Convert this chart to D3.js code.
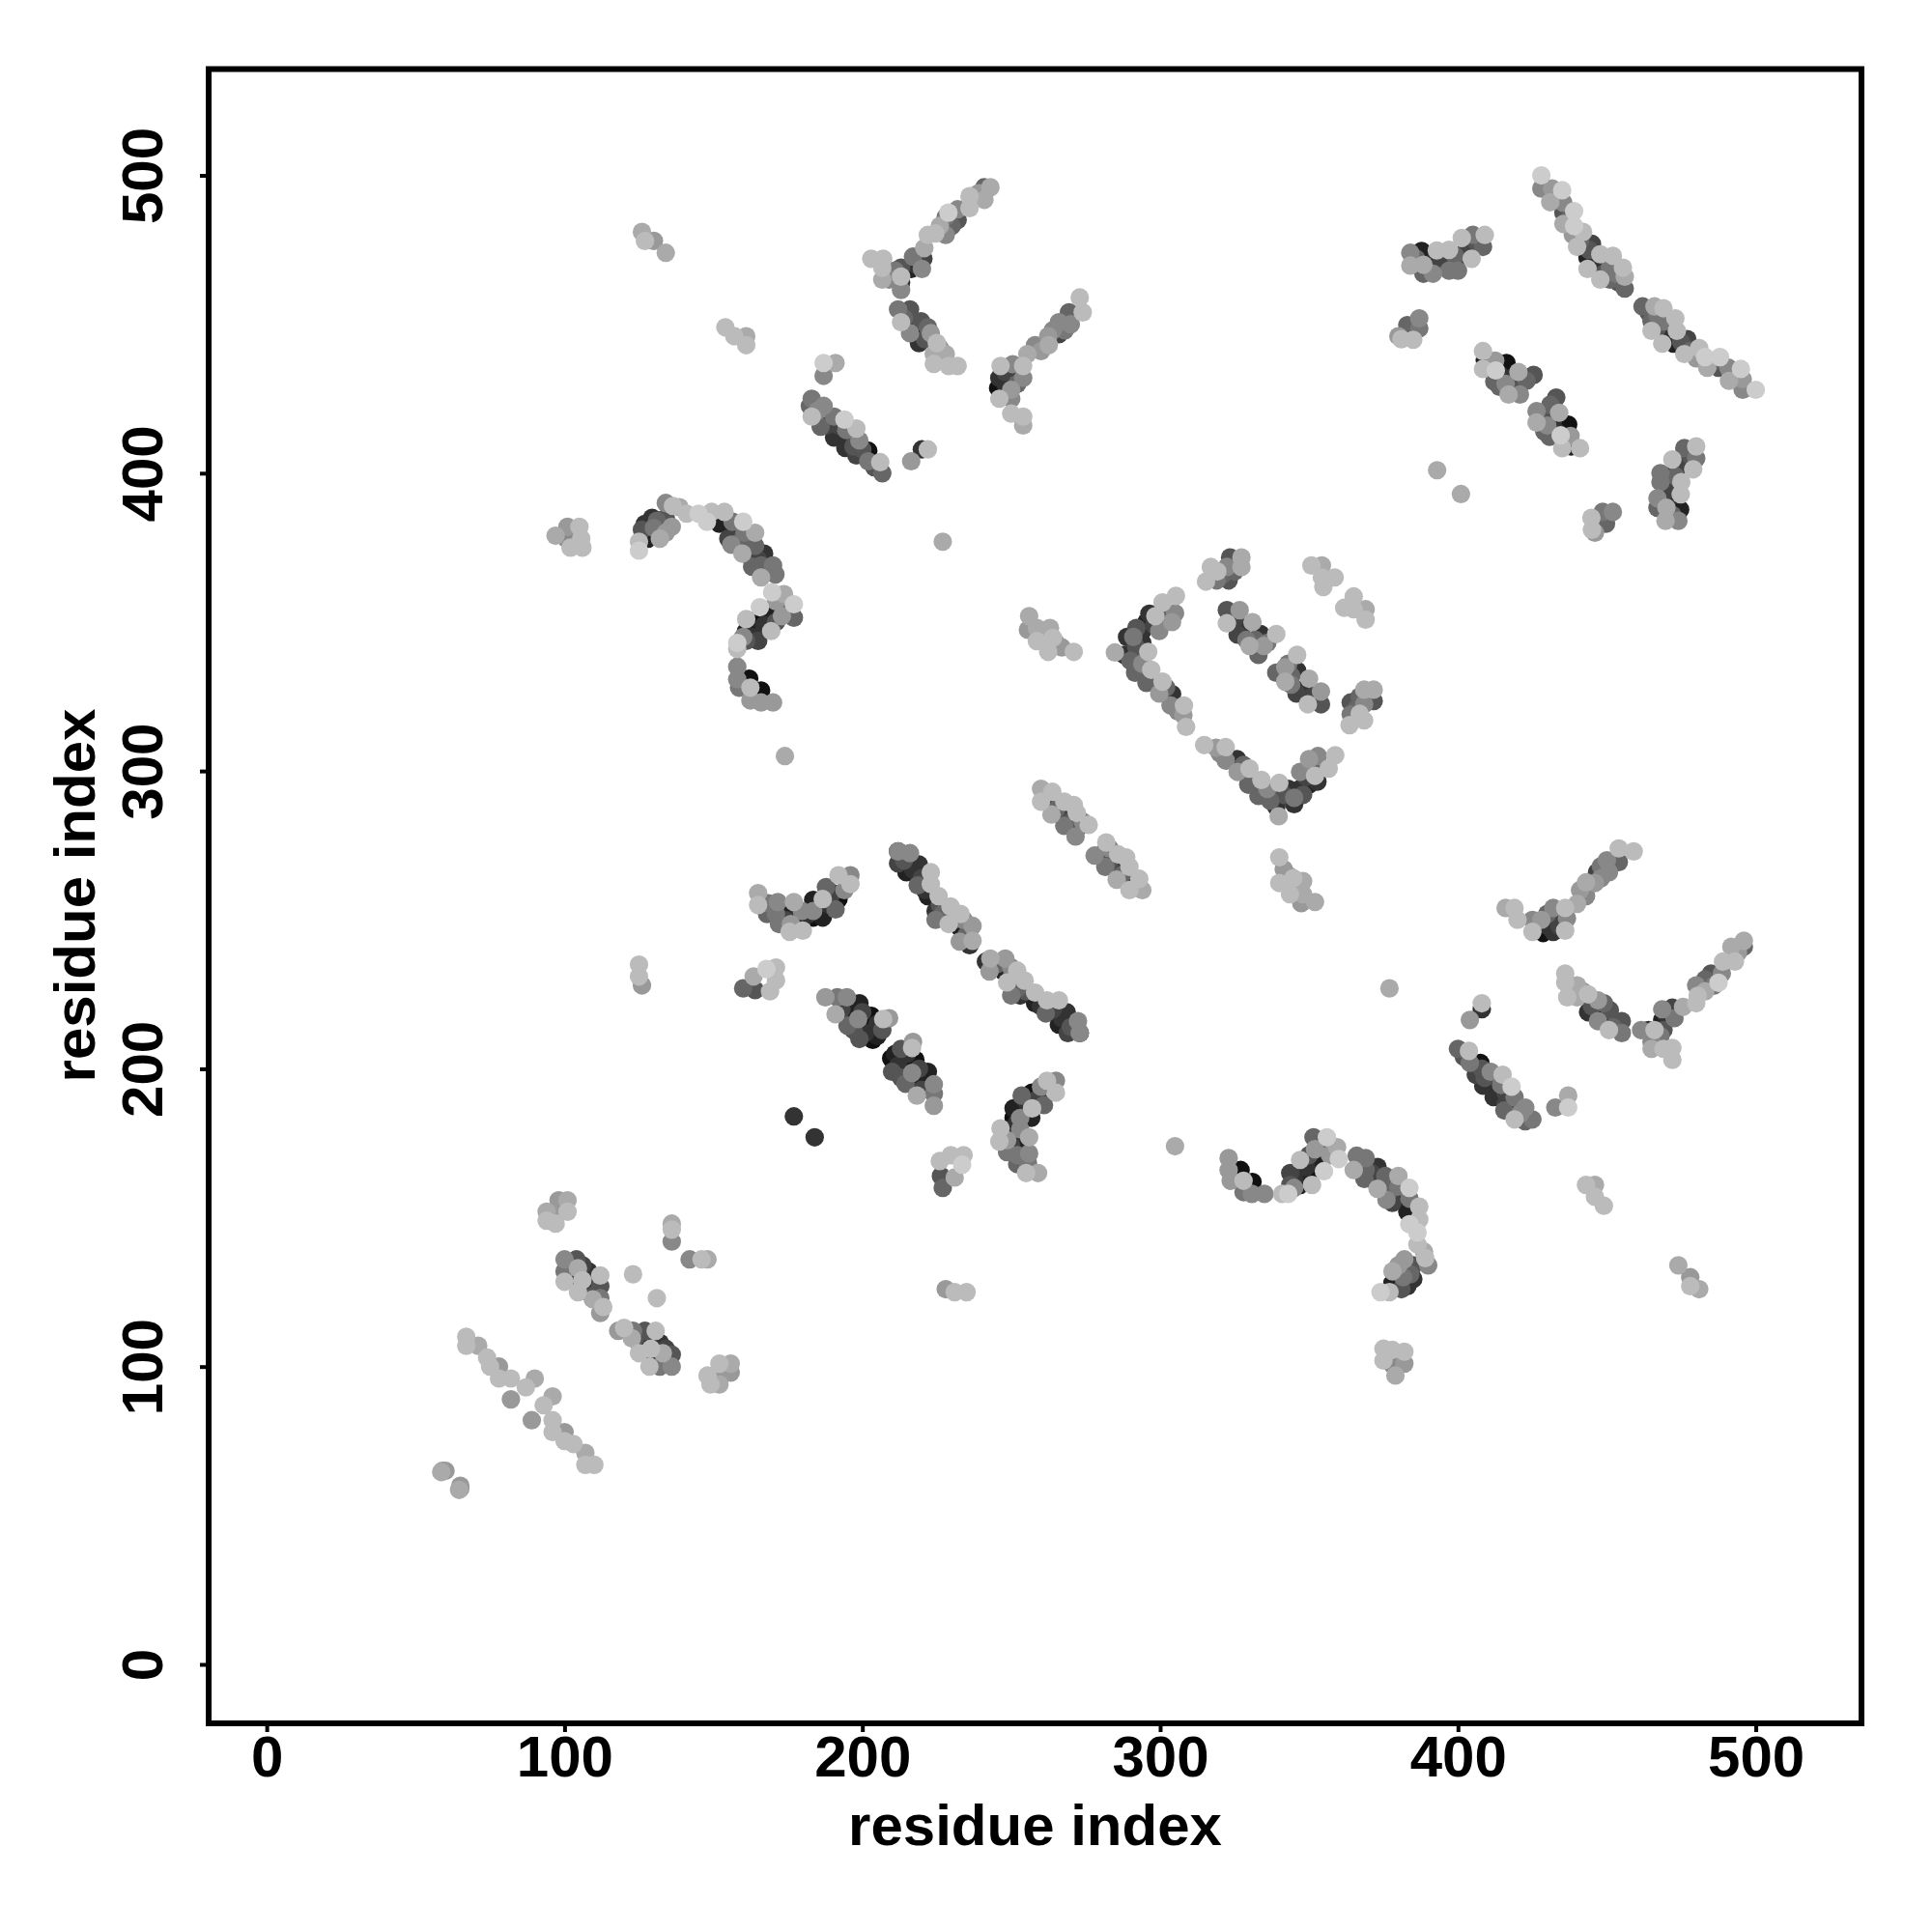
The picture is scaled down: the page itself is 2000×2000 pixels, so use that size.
<!DOCTYPE html>
<html><head><meta charset="utf-8">
<script src="https://cdn.jsdelivr.net/npm/d3@7/dist/d3.min.js"></script>
<style>html,body{margin:0;padding:0;background:#fff}svg{display:block}text{font-family:"Liberation Sans",Arial,sans-serif;font-weight:bold;fill:#000}</style>
</head><body><div id="chart"></div>
<script>
const xTicks=[0,100,200,300,400,500];
const yTicks=[0,100,200,300,400,500];
const xTitle="residue index", yTitle="residue index";
// each contact: [residue i, residue j, shade 1 (dark) .. 12 (light)], i<j; the map is symmetric
const helixA=[[59,65,9],[58.6,64.6,10],[60,65,9],[67,110,11],[67,107,11],[71,107,10],[74,103,11],[75,100,11],[78,96,11],[78,100,9],[82,96,11],[82,89,9],[87,93,11],[90,96,10]];
const patchB=[[94,149,11],[97,148,11],[94,152,10],[101,152,11],[97,151,9],[98,155.8,9],[101,155.8,10],[136,142,8],[136,146,11],[136,148,10],[123,131,11]];
const patchD=[[100,136,8],[100,132,7],[100,128.5,11],[104,136,5],[104.5,133,10],[104.5,125,11],[108,125,2],[108,132,3],[109.5,122.6,10],[112,127,5],[112,118,9],[112,123,7],[112,130.6,11],[113,120,11],[102,130,3],[106,128,3],[106,129,11],[102,134,5],[110,128,3],[106,134,4],[110,124,5]];
const arcLeft=[[97,379,10],[101,382,9],[100.7,378,8],[105,382,11],[102,375,11],[106,375,11],[105.6,378,11]];
const arcTop=[[125,374,12],[125,377,11],[126,381,5],[128,378,2],[129.4,385,3],[130,381.6,7],[132,378,10],[134,390,8],[134,385,5],[136,382,9],[136.4,389,11],[138.6,388.6,10],[141,386.4,11],[145,386.4,12],[147.8,383.7,12],[149.4,387,11],[152,383,2],[153.7,387,11],[156,376,8],[156,380,1],[156.4,383.7,7],[159,377,6],[159.7,373,10],[160.4,380,7],[160,383.7,12],[162.4,372,3],[163,368.6,6],[164,375.6,6],[164,380,10],[166,365,10],[166,369,6],[167,373,3],[170,369,7],[170.8,366,7],[127,383,3],[131,384,6],[134,380,9],[155,378,4],[158,381,3],[161,376,5],[165,371,4],[168,367,6]];
const arcLow=[[158,343,12],[158,341,11],[161,343.7,5],[165,343.7,4],[161,347,2],[164.5,347,2],[169.4,347,11],[161,351,11],[165,351,1],[168.9,350,2],[165.6,355,12],[169.4,354,2],[169.7,360,12],[173,352,9],[173,355,3],[173.7,359.4,10],[177,351.5,6],[177,356,12],[158,335,8],[158,330.8,8],[158.6,328,7],[162,331,1],[162.4,323.7,9],[162.4,328,11],[166,323,9],[170,323,9],[166,327,1],[174,305,10],[163,345,3],[167,349,3],[171,350,5],[171,357,9],[175,354,6],[160,345,8]];
const strandF=[[126,481,10],[127,478,11],[130,478,9],[134,474,10],[154,449,11],[157,446,11],[161,443,11],[161,446,10],[187,432.7,8],[187,437,12],[191,437,10]];
const strandG=[[182.4,422.6,6],[183,419,11],[183,425,7],[186,415.6,6],[187,422.6,8],[190.5,412,3],[190.5,419,7],[194.3,408.5,3],[194.6,414.5,7],[194,418,12],[198,406,4],[198,415,11],[199,411,8],[202,404,7],[202,407.5,1],[206.7,400,6],[206,403.7,11],[216.4,404,9],[220,408,3],[222,408,11],[185,421,8],[188,416,4],[192,416,4],[196,412,3],[197,409,5],[200,408,5],[204,402,5]];
const legUp=[[203,472,11],[207,472,11],[206.7,469,11],[206.7,465,10],[209,465,8],[213,461.5,8],[213,464,3],[213,466,11],[213,469,5],[216.4,468.6,2],[217,472.7,7],[220,468.6,8],[220.5,472,4],[220.8,475.6,10],[222,480,11],[224.5,480.5,11],[228,480,8],[228,486,7],[228.9,487.5,12],[232,485,5],[232,488.6,8],[236,489,11],[236,493,11],[241,491.8,10],[241,496,6],[243,496,10],[211,468,7],[218,470,3],[230,483,6],[226,483,10],[239,494,9]];
const legMid=[[212,455,7],[213,450.7,11],[216,447,8],[216,455,5],[219,443.7,3],[218.6,447.5,1],[219.7,451,5],[223,447,9],[224,436.7,11],[224,440,10],[225,443.7,11],[228,440,10],[229,436,11],[232,436,11],[214,452,6],[217,450,2],[221,445,5],[222,449,6],[226,442,9]];
const legRight=[[245.6,428.6,1],[246,425,11],[246,432,3],[246.4,436,11],[250,420,11],[250,425,8],[250,428,9],[250,432,2],[250.5,436.6,8],[254,416,10],[254,419,11],[254,432,8],[254,436,11],[255.4,440,10],[258,443,8],[262.6,443,10],[262.4,446,9],[266,446.7,4],[266,450.7,8],[269.4,454,6],[270,450,8],[273,459,11],[274,454,11],[248,430,3],[248,434,4],[252,430,6],[252,434,3],[260,441,9],[264,448,8],[268,448,7]];
const sheetH=[[255.6,347.4,9],[256,352,10],[258.6,343.6,11],[258.6,348,10],[262.4,340,11],[263,348,10],[264,344.7,11],[267,341.5,9],[271,340,11],[260,345,9],[265,343,9]];
const sheetI=[[284.8,339.8,10],[288,339,3],[288.9,345,3],[291.6,333,6],[291,345,7],[292,341.5,5],[292,348,5],[295.4,329.6,6],[295.4,350,2],[296,340,11],[296.4,352.8,3],[297,334,11],[298.4,352,11],[299.7,326,9],[299.7,347,8],[300.8,330,11],[300.8,356.6,11],[303.5,322,8],[304,325.8,3],[304,350,9],[305,353,8],[305.3,358.8,11],[307.8,318.8,9],[308,322,11],[308.7,314.8,11],[290,337,6],[294,343,3],[294,347,3],[294,336,8],[298,349,4],[302,351,6],[302,328,6],[306,320,8]];
const sheetJ=[[315.4,363.6,11],[317,368.5,11],[319,364,7],[319.2,367,11],[322.4,368.5,8],[323,364,5],[323.5,371.7,5],[327.3,368.5,10],[327.3,371.7,10],[322.4,349.6,11],[322.4,354,5],[326,345.8,4],[326.7,354,9],[330,342,10],[331,350,10],[333,339,6],[333.7,346,3],[334.8,342,9],[339,346,11],[350.8,369,11],[354.3,365,11],[354.3,369,10],[354.8,361.8,11],[358.6,365,11],[325,351,4],[328,349,3],[329,344,7],[332,344,6],[336,343,7],[321,366,6],[325,367,6]];
const turnK=[[260,289.7,11],[260,294,10],[263.5,285.4,10],[263,289,3],[263.8,293,11],[267.8,281.6,7],[267.8,284.8,3],[267.8,289.7,11],[271,288.6,11],[271.6,278,8],[272,280.5,3],[272,285.9,11],[276,281.9,11],[265,287,6],[269,286,4],[270,283,5],[274,283,8]];
const bendL=[[165,255,11],[165,259,10],[168,252,6],[168.4,255.6,7],[171,252,7],[171.6,256,8],[172,248.6,7],[175.6,246,11],[176,248.6,9],[176,252,2],[177,256,10],[179.7,249,2],[179.7,253,8],[180,246.4,11],[183.5,250.8,1],[183.5,253,8],[183.5,256.7,2],[186.7,250.8,2],[186.7,257,11],[187.8,261,6],[191,253.5,6],[192,257,1],[192,265,11],[196,262,11],[196,265,8],[170,254,5],[174,250,4],[178,251,3],[182,252,3],[185,254,2],[189,255,3],[190,259,4],[194,260,8]];
const patchM=[[160,227,6],[163.5,231,10],[164,226.4,5],[169,226,11],[167.8,233.5,12],[171,229.7,11],[171,234,11]];
const lineN=[[212,273,2],[212,273,8],[212,269,4],[214.8,266,2],[216,272.4,8],[218.6,261.6,6],[219,268.6,3],[222,258,2],[223,262,11],[223,266,11],[224.6,250,7],[224.6,253,3],[225.6,258,11],[229,248.6,11],[229.6,254.5,11],[232.7,242.7,9],[232.7,247.5,2],[233,252,11],[236,241.5,3],[237,243,10],[237,248,9],[214,270,5],[217,267,3],[220,264,4],[221,260,3],[226,255,5],[227,252,6],[231,250,5],[235,245,6],[234,250,8]];
const lineO=[[187.6,224,9],[191,218.3,10],[191.6,224,7],[194.8,221.6,1],[194.8,224,8],[195,214.5,6],[198.6,216.7,8],[199,210,5],[199,222,2],[202.4,214,1],[203,217.8,1],[203.5,209.7,1],[206.7,213,5],[207,216.7,11],[209,217,9],[193,220,4],[196,219,2],[197,213,5],[201,212,3],[205,215,3],[200,219,4],[205,211,2]];
const strandP=[[408.4,435,11],[408.4,441,11],[409,438,2],[412.2,430.8,6],[412.5,437.8,9],[412.7,434.5,12],[416,430,8],[416,434,1],[416.3,437,1],[417,426.4,10],[420.3,434,10],[420.8,426.4,8],[421,430,2],[425.4,433,5],[410,436,5],[414,433,3],[418,432,3],[419,428,5],[423,431,6],[414,429,6]];
const upperQ=[[384,469.7,10],[384,474,8],[387.8,474.6,2],[388.4,467,6],[388.4,470,10],[391.6,467,8],[391.6,470.8,3],[392.9,474.8,11],[397,468,7],[397,475,11],[400,468,7],[400,471.5,2],[401.3,479,11],[404.6,472,11],[404.6,475.6,3],[405,480,7],[408.4,476,6],[409,480,11],[380,446,9],[381,445,11],[383,449.7,6],[385,444.8,11],[387,448.6,7],[387,452,8],[386,472,6],[390,472,2],[394,470,4],[399,473,6],[402,474,4],[406,478,5]];
const longR=[[428,495.6,8],[428,500,12],[431,491,10],[431.6,495.6,9],[435.4,483.7,10],[435.4,487.5,5],[435.4,490.8,8],[435,495,12],[438.6,480,9],[439,483,12],[439,488,12],[440,476,11],[442,481,11],[443.5,468.6,11],[443.5,472.4,2],[445,477,4],[447.8,465,11],[447.8,469,3],[447.8,473.5,11],[451,465,6],[451,469,7],[452,473,11],[455.4,469,11],[456,462,6],[456,466,10],[433,493,7],[437,485,6],[441,478,6],[446,471,3],[449,467,5],[453,467,7],[444,475,5],[454,464,5]];
const singles=[[177,184,3],[227,377,10],[393,401,10],[126,228,9],[125,231,11],[125,235,11]];

const groups=[helixA,patchB,patchD,arcLeft,arcTop,arcLow,strandF,strandG,legUp,legMid,legRight,sheetH,sheetI,sheetJ,turnK,bendL,patchM,lineN,lineO,strandP,upperQ,longR,singles];

const svg=d3.select("#chart").append("svg").attr("width",2000).attr("height",2000);
const x=d3.scaleLinear().domain([-19.5,535.5]).range([216,1927]);
const y=d3.scaleLinear().domain([-19.8,535.7]).range([1784,71.5]);
const shade=d3.scaleLinear().domain([1,12]).range([17,204]);

// darker contacts go underneath in each group, leaving the dark crescents seen in the map
const contacts=groups.flatMap(g=>g.slice().sort((a,b)=>a[2]-b[2]));
const all=contacts.concat(contacts.map(d=>[d[1],d[0],d[2]]));
svg.append("g").selectAll("circle").data(all).join("circle")
  .attr("cx",d=>x(d[0])).attr("cy",d=>y(d[1])).attr("r",9.6)
  .attr("fill",d=>{const g=Math.round(shade(d[2]));return `rgb(${g},${g},${g})`;});

svg.append("rect").attr("x",216).attr("y",71.5).attr("width",1711).attr("height",1712.5)
  .attr("fill","none").attr("stroke","#000").attr("stroke-width",6);

const gx=svg.append("g").attr("transform","translate(0,1784)")
  .call(d3.axisBottom(x).tickValues(xTicks).tickSize(9).tickPadding(0));
const gy=svg.append("g").attr("transform","translate(216,0)")
  .call(d3.axisLeft(y).tickValues(yTicks).tickSize(9).tickPadding(0));
for(const g of [gx,gy]){
  g.select(".domain").remove();
  g.selectAll("line").attr("stroke","#000").attr("stroke-width",4);
}
gx.selectAll("text").attr("y",55).attr("dy",0).attr("font-size",60).attr("text-anchor","middle").style("font-family",'"Liberation Sans"').style("font-weight","bold");
gy.selectAll("text").attr("x",0).attr("dy",0).attr("y",0).attr("font-size",60).attr("text-anchor","middle")
  .attr("transform",d=>`translate(-48,0) rotate(-90)`).style("font-family",'"Liberation Sans"').style("font-weight","bold");

svg.append("text").attr("x",1071.5).attr("y",1910).attr("text-anchor","middle").attr("font-size",60).text(xTitle);
svg.append("text").attr("transform","translate(98,927) rotate(-90)").attr("text-anchor","middle").attr("font-size",60).text(yTitle);
</script></body></html>
